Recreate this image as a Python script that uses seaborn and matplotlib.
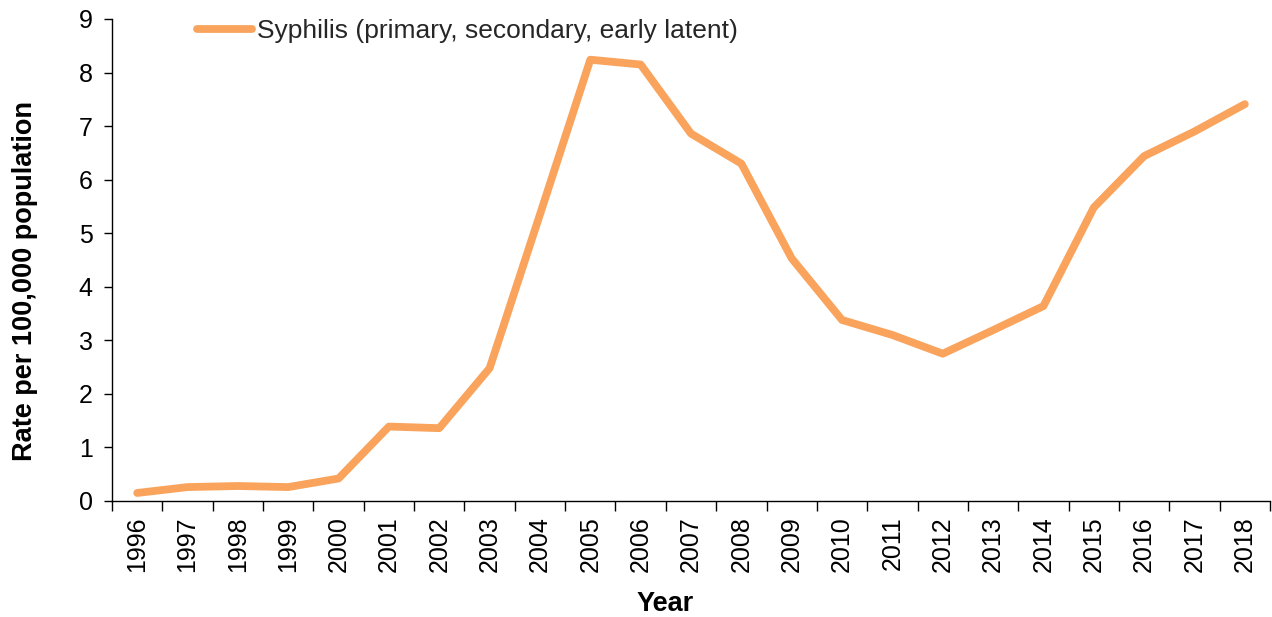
import pandas as pd
import numpy as np
import matplotlib
matplotlib.use('Agg')
import matplotlib.pyplot as plt
import seaborn as sns

years = ['1996', '1997', '1998', '1999', '2000', '2001', '2002', '2003', '2004', '2005', '2006', '2007',
         '2008', '2009', '2010', '2011', '2012', '2013', '2014', '2015', '2016', '2017', '2018']
rates = [0.15, 0.26, 0.28, 0.26, 0.42, 1.39, 1.36, 2.48, 5.35, 8.24, 8.15, 6.86,
         6.3, 4.53, 3.38, 3.1, 2.75, 3.19, 3.64, 5.48, 6.44, 6.9, 7.41]
series_name = 'Syphilis (primary, secondary, early latent)'

df = pd.DataFrame({'year': years, 'rate': rates, 'pos': np.arange(len(years))})

sns.set_style('ticks')
plt.rcParams['font.family'] = ['Liberation Sans', 'DejaVu Sans']

fig = plt.figure(figsize=(12.72, 6.17), dpi=100)
ax = fig.add_axes([112 / 1272, 1 - 501 / 617, (1270 - 112) / 1272, (501 - 19) / 617])

sns.lineplot(x='pos', y='rate', data=df, color='#F9A35C', linewidth=5.6,
             solid_capstyle='round', label=series_name, ax=ax)

ax.set_xlim(-0.5, len(years) - 0.5)
ax.set_ylim(0, 9)
ax.set_yticks(range(0, 10))
ax.tick_params(axis='y', labelsize=18, length=6, width=1, color='black', pad=8, labelcolor='black')

# ticks between the categories, labels at the centres
ax.set_xticks(np.arange(len(years) + 1) - 0.5)
ax.set_xticklabels([])
ax.set_xticks(np.arange(len(years)), minor=True)
ax.set_xticklabels(years, minor=True, rotation=90)
ax.tick_params(axis='x', which='major', length=7, width=1, color='black')
ax.tick_params(axis='x', which='minor', length=0, labelsize=18, pad=11, labelcolor='black')

for s in ['top', 'right']:
    ax.spines[s].set_visible(False)
for s in ['left', 'bottom']:
    ax.spines[s].set_color('black')
    ax.spines[s].set_linewidth(1)

ax.set_xlabel('Year', fontsize=19.5, fontweight='bold', color='black')
ax.set_ylabel('Rate per 100,000 population', fontsize=19.5, fontweight='bold', color='black')
ax.xaxis.set_label_coords(0.4775, -0.187)
ax.yaxis.set_label_coords(-0.064, 0.456)

leg = ax.legend(loc='upper left', bbox_to_anchor=(0.064, 1.021), frameon=False,
                fontsize=19, handlelength=2.1, handletextpad=0.2, borderaxespad=0)

fig.savefig('out.png', dpi=100)
